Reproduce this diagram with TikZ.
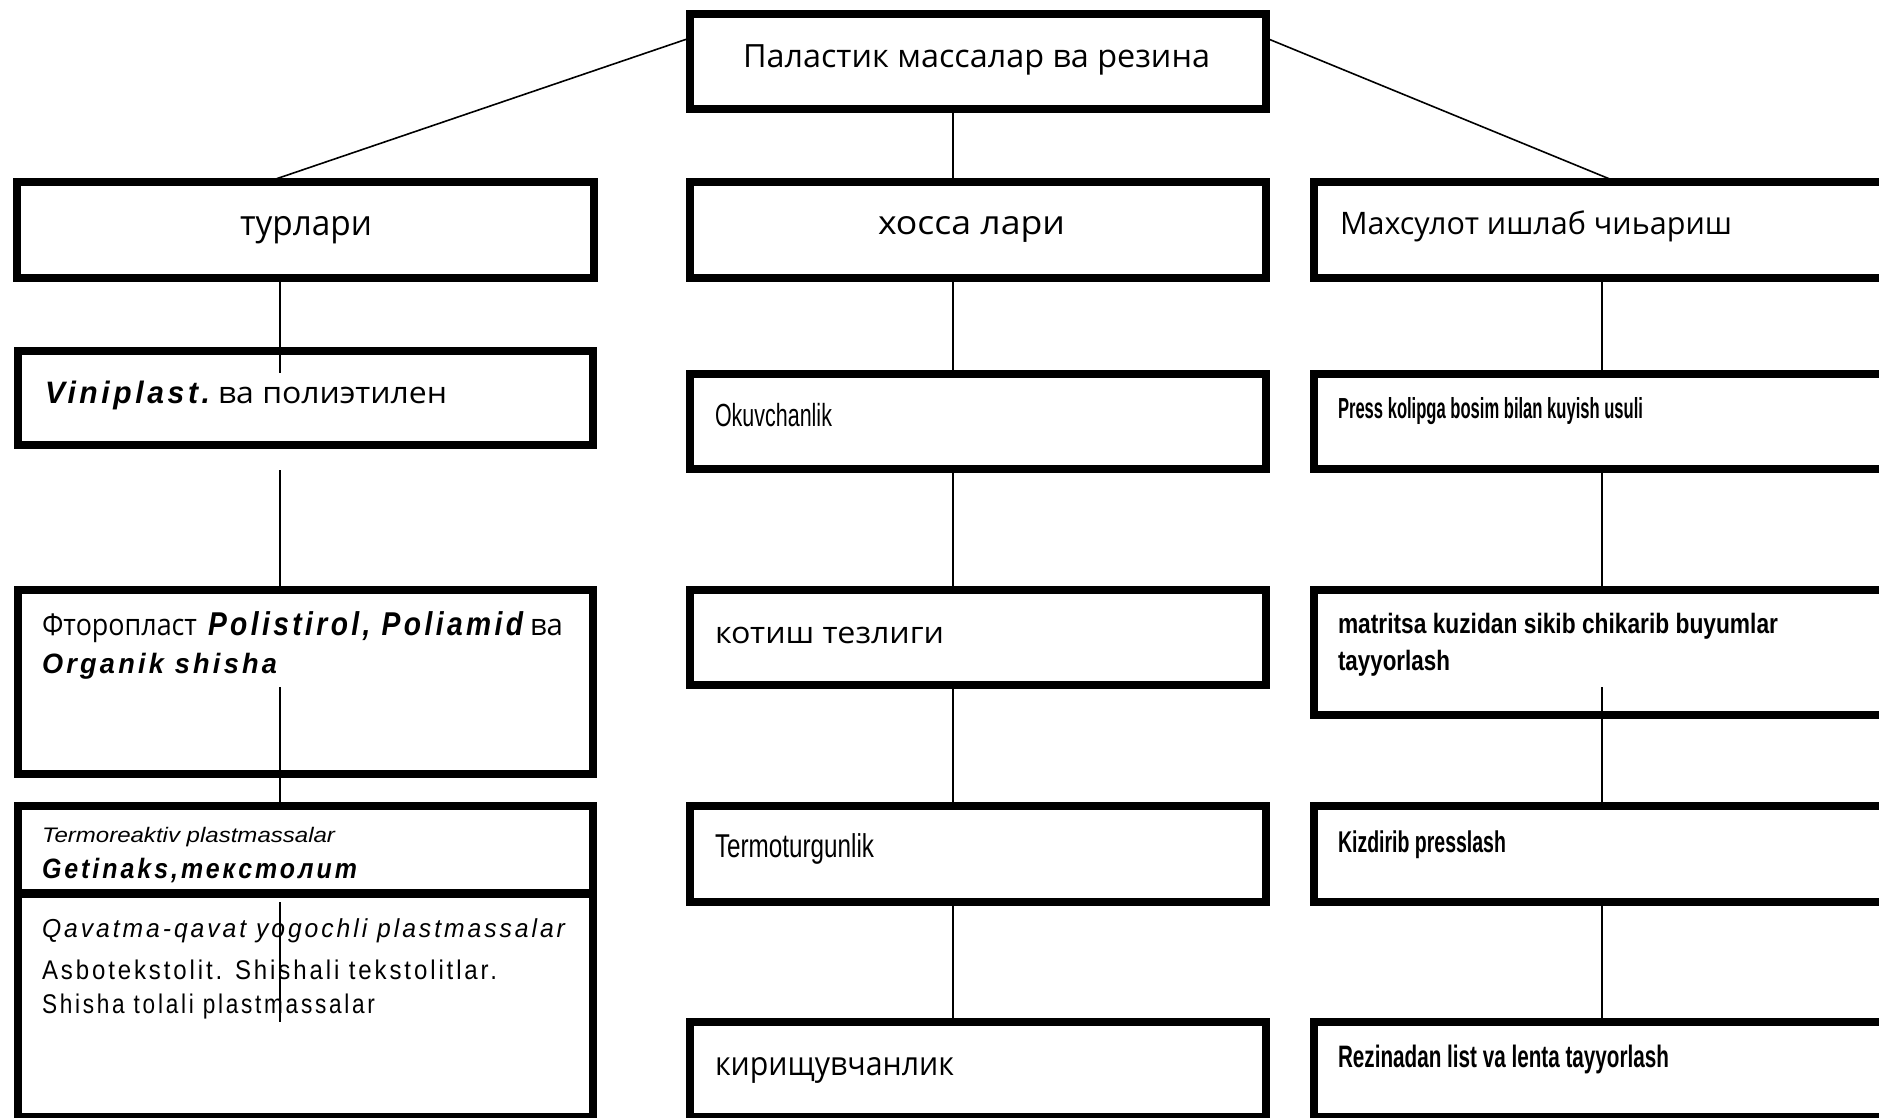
\documentclass[tikz,border=0pt]{standalone}
\usepackage{fontspec}
\usepackage{graphicx}
\setmainfont{Open Sans}
\newfontfamily\lat{Liberation Sans}
\newfontfamily\latsp[LetterSpace=12]{Liberation Sans}
\newcommand\fitw[2]{\resizebox{#1pt}{\height}{#2}}
\newcommand\fs[1]{\fontsize{#1pt}{#1pt}\selectfont}
\tikzset{
  bx/.style={draw, line width=8pt, rectangle, inner sep=0pt, outer sep=0pt},
  ln/.style={draw, line width=1.6pt},
  txt/.style={anchor=base west, inner sep=0pt, outer sep=0pt}
}
\begin{document}
\begin{tikzpicture}[x=1pt,y=-1pt]
\clip (0,0) rectangle (1879,1118);
\fill[white] (0,0) rectangle (1879,1118);
% boxes
\node[bx, minimum width=576pt, minimum height=95pt] (top) at (978,61.5) {};
\node[bx, minimum width=577pt, minimum height=96pt] (turlari) at (305.5,230) {};
\node[bx, minimum width=576pt, minimum height=96pt] (hossa) at (978,230) {};
\node[bx, minimum width=642pt, minimum height=96pt] (mahs) at (1635,230) {};
\node[bx, minimum width=575pt, minimum height=94pt] (vinip) at (305.5,398) {};
\node[bx, minimum width=575pt, minimum height=184pt] (ftoro) at (305.5,682) {};
\node[bx, minimum width=575pt, minimum height=87pt] (termo) at (305.5,849.5) {};
\node[bx, minimum width=575pt, minimum height=223pt] (qavat) at (305.5,1005.5) {};
\node[bx, minimum width=576pt, minimum height=95pt] (okuv) at (978,421.5) {};
\node[bx, minimum width=576pt, minimum height=95pt] (kotish) at (978,637.5) {};
\node[bx, minimum width=576pt, minimum height=96pt] (termot) at (978,854) {};
\node[bx, minimum width=576pt, minimum height=95pt] (kirish) at (978,1069.5) {};
\node[bx, minimum width=642pt, minimum height=95pt] (press) at (1635,421.5) {};
\node[bx, minimum width=642pt, minimum height=125pt] (matr) at (1635,652.5) {};
\node[bx, minimum width=642pt, minimum height=96pt] (kizd) at (1635,854) {};
\node[bx, minimum width=642pt, minimum height=95pt] (rezin) at (1635,1069.5) {};
% helper coordinates
\coordinate (lx) at (280,0);
\coordinate (cx) at (953,0);
\coordinate (rx) at (1602,0);
\coordinate (le1) at (280,373);
\coordinate (le2) at (280,470);
\coordinate (le3) at (280,687);
\coordinate (le4) at (280,902);
\coordinate (le5) at (280,1022);
\coordinate (re1) at (1602,687);
% connectors
\draw[ln] ([yshift=23.5pt]top.west) -- ([xshift=-38.5pt]turlari.north);
\draw[ln] ([yshift=23.5pt]top.east) -- ([xshift=-18pt]mahs.north);
\draw[ln] (top.south -| cx) -- (hossa.north -| cx);
\draw[ln] (hossa.south -| cx) -- (okuv.north -| cx);
\draw[ln] (okuv.south -| cx) -- (kotish.north -| cx);
\draw[ln] (kotish.south -| cx) -- (termot.north -| cx);
\draw[ln] (termot.south -| cx) -- (kirish.north -| cx);
\draw[ln] (turlari.south -| lx) -- (le1);
\draw[ln] (le2) -- (ftoro.north -| lx);
\draw[ln] (le3) -- (termo.north -| lx);
\draw[ln] (le4) -- (le5);
\draw[ln] (mahs.south -| rx) -- (press.north -| rx);
\draw[ln] (press.south -| rx) -- (matr.north -| rx);
\draw[ln] (re1) -- (kizd.north -| rx);
\draw[ln] (kizd.south -| rx) -- (rezin.north -| rx);
% texts
\node[txt] (t0) at (743,68) {\fitw{467}{\fs{32}Паластик массалар ва резина}};
\node[txt] (t1) at (240,236) {\fitw{132}{\fs{35}турлари}};
\node[txt] (t2) at (878,235) {\fitw{187}{\fs{33}хосса лари}};
\node[txt] (t3) at (1340,235) {\fitw{392}{\fs{31}Махсулот ишлаб чиьариш}};
\node[txt] (t4) at (45,403) {\fitw{165}{\fs{31}\latsp\bfseries\itshape Viniplast.}\hspace{8pt}\fitw{229}{\fs{30}ва полиэтилен}};
\node[txt] (t5) at (42,635) {\fitw{155}{\fs{30}Фторопласт}\hspace{11pt}\fitw{315}{\fs{33}\latsp\bfseries\itshape Polistirol, Poliamid}\hspace{7pt}\fitw{33}{\fs{30}ва}};
\node[txt] (t6) at (42,673) {\fitw{235}{\fs{28}\latsp\bfseries\itshape Organik shisha}};
\node[txt] (t7) at (42,842) {\fitw{293}{\fs{21}\lat\itshape Termoreaktiv plastmassalar}};
\node[txt] (t8) at (42,878) {\fitw{315}{\fs{28}\latsp\bfseries\itshape Getinaks,текстолит}};
\node[txt] (t9) at (42,937) {\fitw{523}{\fs{26}\latsp\itshape Qavatma-qavat yogochli plastmassalar}};
\node[txt] (t10) at (42,979) {\fitw{455}{\fs{27}\latsp Asbotekstolit. Shishali tekstolitlar.}};
\node[txt] (t11) at (42,1013) {\fitw{333}{\fs{27}\latsp Shisha tolali plastmassalar}};
\node[txt] (t12) at (715,426) {\fitw{117}{\fs{32}\lat Okuvchanlik}};
\node[txt] (t13) at (715,643) {\fitw{229}{\fs{30}котиш тезлиги}};
\node[txt] (t14) at (715,857) {\fitw{159}{\fs{33}\lat Termoturgunlik}};
\node[txt] (t15) at (715,1075) {\fitw{239}{\fs{33}кирищувчанлик}};
\node[txt] (t16) at (1338,418) {\fitw{305}{\fs{29}\lat\bfseries Press kolipga bosim bilan kuyish usuli}};
\node[txt] (t17) at (1338,633) {\fitw{440}{\fs{28}\lat\bfseries matritsa kuzidan sikib chikarib buyumlar}};
\node[txt] (t18) at (1338,670) {\fitw{112}{\fs{28}\lat\bfseries tayyorlash}};
\node[txt] (t19) at (1338,852) {\fitw{168}{\fs{30}\lat\bfseries Kizdirib presslash}};
\node[txt] (t20) at (1338,1067) {\fitw{331}{\fs{31}\lat\bfseries Rezinadan list va lenta tayyorlash}};
\end{tikzpicture}
\end{document}
